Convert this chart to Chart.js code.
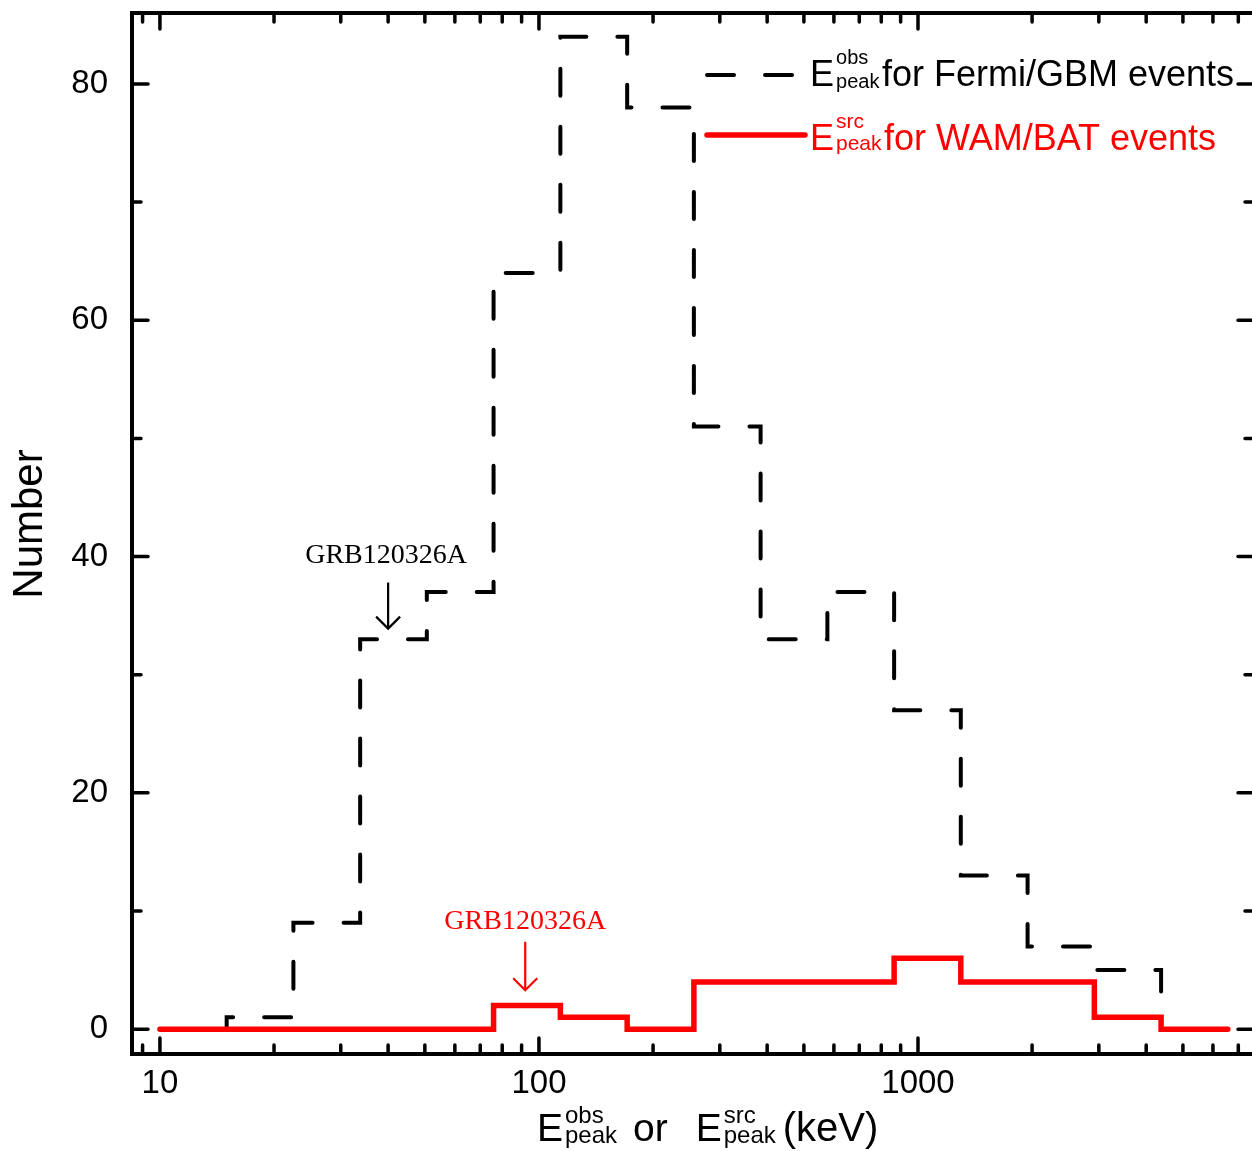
<!DOCTYPE html>
<html>
<head>
<meta charset="utf-8">
<script src="https://cdn.jsdelivr.net/npm/chart.js@4.4.0/dist/chart.umd.min.js"></script>
<style>
  html, body { margin: 0; padding: 0; background: #fff; overflow: hidden; }
  canvas { display: block; }
</style>
</head>
<body>
<canvas id="myChart" width="1262" height="1151"></canvas>
<script>
// Bordes de los bins (keV), escala logaritmica
const binEdges = [10, 15, 22.5, 33.75, 50.6, 75.9, 113.9, 170.9, 256.3, 384.4, 576.7, 865, 1297, 1946, 2919, 4379, 6568];
// Numero de eventos por bin
const fermiCounts = [0, 1, 9, 33, 37, 64, 84, 78, 51, 33, 37, 27, 13, 7, 5, 0];
const wamBatCounts = [0, 0, 0, 0, 0, 2, 1, 0, 4, 4, 4, 6, 4, 4, 1, 0];

// Ticks de los ejes
const xMajorTicks = [10, 100, 1000];
const xMinorTicks = [9, 20, 30, 40, 50, 60, 70, 80, 90, 200, 300, 400, 500, 600, 700, 800, 900, 2000, 3000, 4000, 5000, 6000, 7000];
const yMajorTicks = [0, 20, 40, 60, 80];
const yMinorTicks = [10, 30, 50, 70];

// Flechas GRB120326A: [x, y del texto, y de la cola, y de la punta]
const grbFermi = [40, 40.1, 37.8, 33.9];
const grbWam = [92, 9.1, 7.4, 3.3];

const SANS = "'Liberation Sans', Arial, Helvetica, sans-serif";
const SERIF = "'Liberation Serif', 'Times New Roman', serif";
Chart.defaults.font.family = SANS;
Chart.defaults.color = '#000';

// Convierte las cuentas en puntos (borde izquierdo de cada bin)
const toSteps = counts => binEdges.map((e, i) => ({ x: e, y: i < counts.length ? counts[i] : 0 }));

// Texto tipo E^{sup}_{sub}; devuelve la x final
function drawPeak(ctx, x, base, sup, sub, big, small, supUp, subDown) {
  ctx.font = big + 'px ' + SANS;
  ctx.fillText('E', x, base);
  const sx = x + ctx.measureText('E').width + 2;
  ctx.font = small + 'px ' + SANS;
  ctx.fillText(sup, sx, base - supUp);
  ctx.fillText(sub, sx, base + subDown);
  return sx + Math.max(ctx.measureText(sup).width, ctx.measureText(sub).width);
}

function drawArrow(ctx, x, y0, y1) {
  ctx.beginPath();
  ctx.moveTo(x, y0);
  ctx.lineTo(x, y1);
  ctx.moveTo(x - 12, y1 - 12);
  ctx.lineTo(x, y1);
  ctx.lineTo(x + 12, y1 - 12);
  ctx.stroke();
}

const decoraciones = {
  id: 'decoraciones',
  afterDraw(chart) {
    const ctx = chart.ctx;
    const a = chart.chartArea;
    const xs = chart.scales.x, ys = chart.scales.y;
    ctx.save();
    ctx.strokeStyle = '#000';
    ctx.fillStyle = '#000';

    // Marco
    ctx.lineWidth = 4;
    ctx.lineCap = 'square';
    ctx.strokeRect(a.left, a.top, a.right - a.left, a.bottom - a.top);

    // Ticks hacia adentro
    ctx.lineWidth = 3.5;
    ctx.lineCap = 'round';
    const tickX = (v, len) => {
      const px = xs.getPixelForValue(v);
      ctx.beginPath();
      ctx.moveTo(px, a.bottom); ctx.lineTo(px, a.bottom - len);
      ctx.moveTo(px, a.top); ctx.lineTo(px, a.top + len);
      ctx.stroke();
    };
    const tickY = (v, len) => {
      const py = ys.getPixelForValue(v);
      ctx.beginPath();
      ctx.moveTo(a.left, py); ctx.lineTo(a.left + len, py);
      ctx.moveTo(a.right, py); ctx.lineTo(a.right - len, py);
      ctx.stroke();
    };
    xMajorTicks.forEach(v => tickX(v, 16));
    xMinorTicks.forEach(v => tickX(v, 9));
    yMajorTicks.forEach(v => tickY(v, 16));
    yMinorTicks.forEach(v => tickY(v, 9));

    // Titulo eje Y
    ctx.save();
    ctx.translate(30, 524);
    ctx.rotate(-Math.PI / 2);
    ctx.font = '42px ' + SANS;
    ctx.textAlign = 'center';
    ctx.textBaseline = 'middle';
    ctx.fillText('Number', 0, 0);
    ctx.restore();

    // Titulo eje X
    ctx.textAlign = 'left';
    ctx.textBaseline = 'alphabetic';
    let x = drawPeak(ctx, 537, 1141, 'obs', 'peak', 39, 24, 18, 2);
    ctx.font = '39px ' + SANS;
    ctx.fillText('or', x + 16, 1141);
    x = x + 16 + ctx.measureText('or').width + 28;
    x = drawPeak(ctx, x, 1141, 'src', 'peak', 39, 24, 18, 2);
    ctx.font = '40px ' + SANS;
    ctx.fillText('(keV)', x + 7, 1141);

    // Leyenda
    const ds = chart.data.datasets;
    ctx.lineWidth = ds[1].borderWidth;
    ctx.strokeStyle = ds[1].borderColor;
    ctx.setLineDash(ds[1].borderDash);
    ctx.beginPath();
    ctx.moveTo(707, 75); ctx.lineTo(795, 75);
    ctx.stroke();
    ctx.setLineDash([]);
    ctx.fillStyle = '#000';
    drawPeak(ctx, 810, 86, 'obs', 'peak', 36, 20, 22, 2);
    ctx.font = '36px ' + SANS;
    ctx.fillText('for Fermi/GBM events', 882, 86);

    ctx.lineWidth = ds[0].borderWidth;
    ctx.strokeStyle = ds[0].borderColor;
    ctx.beginPath();
    ctx.moveTo(707, 135); ctx.lineTo(805, 135);
    ctx.stroke();
    ctx.fillStyle = ds[0].borderColor;
    drawPeak(ctx, 810, 150, 'src', 'peak', 36, 21, 22, 0);
    ctx.font = '36px ' + SANS;
    ctx.fillText('for WAM/BAT events', 884, 150);

    // Anotaciones GRB120326A
    ctx.font = '28px ' + SERIF;
    ctx.textAlign = 'center';
    ctx.textBaseline = 'middle';
    ctx.lineWidth = 2.2;
    ctx.lineCap = 'butt';
    ctx.fillStyle = '#000';
    ctx.strokeStyle = '#000';
    const bx = xs.getPixelForValue(grbFermi[0]);
    ctx.fillText('GRB120326A', bx - 2, ys.getPixelForValue(grbFermi[1]));
    drawArrow(ctx, bx, ys.getPixelForValue(grbFermi[2]), ys.getPixelForValue(grbFermi[3]));

    ctx.fillStyle = '#ff0000';
    ctx.strokeStyle = '#ff0000';
    const rx = xs.getPixelForValue(grbWam[0]);
    ctx.fillText('GRB120326A', rx, ys.getPixelForValue(grbWam[1]));
    drawArrow(ctx, rx, ys.getPixelForValue(grbWam[2]), ys.getPixelForValue(grbWam[3]));

    ctx.restore();
  }
};

const ctx = document.getElementById('myChart');

new Chart(ctx, {
  type: 'line',
  data: {
    datasets: [
      {
        label: 'WAM/BAT',
        data: toSteps(wamBatCounts),
        stepped: 'before',
        borderColor: '#ff0000',
        borderWidth: 5.5,
        borderCapStyle: 'round',
        borderJoinStyle: 'miter',
        pointRadius: 0,
        fill: false
      },
      {
        label: 'Fermi/GBM',
        data: toSteps(fermiCounts),
        stepped: 'before',
        borderColor: '#000000',
        borderWidth: 4,
        borderDash: [27, 31],
        borderCapStyle: 'round',
        borderJoinStyle: 'miter',
        pointRadius: 0,
        fill: false
      }
    ]
  },
  options: {
    responsive: false,
    animation: false,
    layout: { padding: { top: 13, right: 8, left: 0, bottom: 0 } },
    plugins: {
      legend: { display: false },
      tooltip: { enabled: false }
    },
    scales: {
      x: {
        type: 'logarithmic',
        min: 8.44,
        max: 7700,
        grid: { display: false, drawTicks: false },
        border: { display: false },
        afterBuildTicks: s => { s.ticks = xMajorTicks.map(v => ({ value: v })); },
        afterFit: s => { s.height = 97; s.paddingLeft = 0; s.paddingRight = 0; },
        ticks: {
          callback: v => String(v),
          font: { size: 33 },
          color: '#000',
          padding: 10,
          maxRotation: 0,
          autoSkip: false
        }
      },
      y: {
        min: -2.1,
        max: 86,
        grid: { display: false, drawTicks: false },
        border: { display: false },
        afterBuildTicks: s => { s.ticks = yMajorTicks.map(v => ({ value: v })); },
        afterFit: s => { s.width = 132; s.paddingTop = 0; s.paddingBottom = 0; },
        ticks: {
          font: { size: 33 },
          color: '#000',
          padding: 24
        }
      }
    }
  },
  plugins: [decoraciones]
});
</script>
</body>
</html>
